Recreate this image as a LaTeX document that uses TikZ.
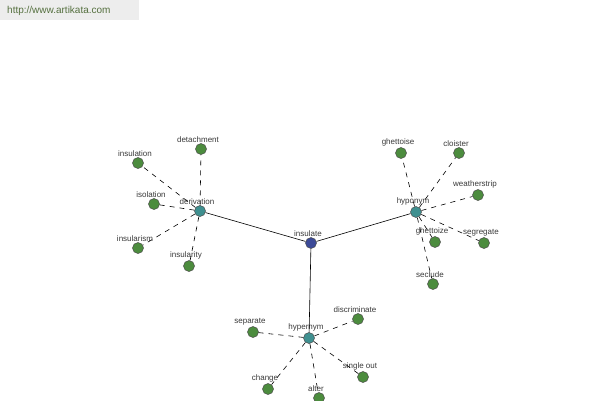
\documentclass[tikz,border=0pt]{standalone}
\usepackage{fontspec}
\setmainfont{Liberation Sans}
\usepackage{xcolor}
\definecolor{leafgreen}{HTML}{4C8C3E}
\definecolor{hubteal}{HTML}{3F9090}
\definecolor{rootblue}{HTML}{3C4A98}
\definecolor{txtgray}{HTML}{3A3A3A}
\definecolor{markgreen}{HTML}{55703F}
\tikzset{
	dot/.style={circle,draw=black!70,line width=0.5pt,minimum size=11pt,inner sep=0pt},
	leaf/.style={dot,fill=leafgreen},
	hub/.style={dot,fill=hubteal},
	root/.style={dot,fill=rootblue},
	lbl/.style={font=\fontsize{8}{9}\selectfont,text=txtgray,inner sep=0.5pt,label distance=0pt,xshift=-3pt},
	rel/.style={dash pattern=on 5pt off 5pt,line width=0.6pt},
	link/.style={line width=0.6pt}
}
\begin{document}
\begin{tikzpicture}[x=1pt,y=-1pt]
	\useasboundingbox (0,0) rectangle (600,400);
	\fill[white] (0,0) rectangle (600,400);
	% watermark
	\fill[black!7] (0,0) rectangle (139,20);
	\node[anchor=west,font=\fontsize{10}{11}\selectfont,text=markgreen,inner sep=0pt] (site) at (7,10.5) {http://www.artikata.com};
	% centre and hubs
	\node[root,label={[lbl]above:insulate}] (insulate) at (311,243) {};
	\node[hub,label={[lbl]above:derivation}] (derivation) at (200,211) {};
	\node[hub,label={[lbl]above:hyponym}] (hyponym) at (416,212) {};
	\node[hub,label={[lbl]above:hypernym}] (hypernym) at (309,338) {};
	% derivation
	\node[leaf,label={[lbl]above:detachment}] (detachment) at (201,149) {};
	\node[leaf,label={[lbl]above:insulation}] (insulation) at (138,163) {};
	\node[leaf,label={[lbl]above:isolation}] (isolation) at (154,204) {};
	\node[leaf,label={[lbl]above:insularism}] (insularism) at (138,248) {};
	\node[leaf,label={[lbl]above:insularity}] (insularity) at (189,266) {};
	% hyponym
	\node[leaf,label={[lbl]above:ghettoise}] (ghettoise) at (401,153) {};
	\node[leaf,label={[lbl]above:cloister}] (cloister) at (459,153) {};
	\node[leaf,label={[lbl]above:weatherstrip}] (weatherstrip) at (478,195) {};
	\node[leaf,label={[lbl]above:ghettoize}] (ghettoize) at (435,242) {};
	\node[leaf,label={[lbl]above:segregate}] (segregate) at (484,243) {};
	\node[leaf,label={[lbl]above:seclude}] (seclude) at (433,284) {};
	% hypernym
	\node[leaf,label={[lbl]above:separate}] (separate) at (253,332) {};
	\node[leaf,label={[lbl]above:discriminate}] (discriminate) at (358,319) {};
	\node[leaf,label={[lbl]above:single out}] (singleout) at (363,377) {};
	\node[leaf,label={[lbl]above:change}] (change) at (268,389) {};
	\node[leaf,label={[lbl]above:alter}] (alter) at (319,398) {};
	% links
	\draw[link] (insulate)--(derivation);
	\draw[link] (insulate)--(hyponym);
	\draw[link] (insulate)--(hypernym);
	\foreach \leafname in {detachment,insulation,isolation,insularism,insularity}
		\draw[rel] (derivation)--(\leafname);
	\foreach \leafname in {ghettoise,cloister,weatherstrip,ghettoize,segregate,seclude}
		\draw[rel] (hyponym)--(\leafname);
	\foreach \leafname in {separate,discriminate,singleout,change,alter}
		\draw[rel] (hypernym)--(\leafname);
\end{tikzpicture}
\end{document}
